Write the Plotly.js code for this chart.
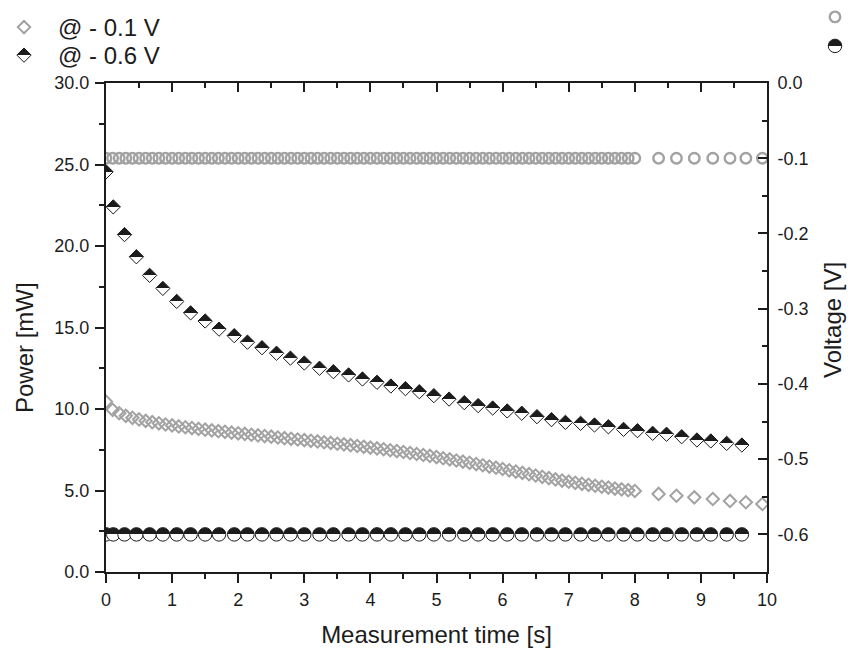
<!DOCTYPE html>
<html><head><meta charset="utf-8">
<script src="https://cdn.plot.ly/plotly-3.0.1.min.js"></script>
<style>html,body{margin:0;padding:0;background:#fff;} #chart{width:859px;height:652px;}</style>
</head><body><div id="chart"></div>
<script>
// Measurement at -0.1 V
const timeLow = [0.0,0.1,0.2,0.3,0.4,0.5,0.6,0.7,0.8,0.9,1.0,1.1,1.2,1.3,1.4,1.5,1.6,1.7,1.8,1.9,2.0,2.1,2.2,2.3,2.4,2.5,2.6,2.7,2.8,2.9,3.0,3.1,3.2,3.3,3.4,3.5,3.6,3.7,3.8,3.9,4.0,4.1,4.2,4.3,4.4,4.5,4.6,4.7,4.8,4.9,5.0,5.1,5.2,5.3,5.4,5.5,5.6,5.7,5.8,5.9,6.0,6.1,6.2,6.3,6.4,6.5,6.6,6.7,6.8,6.9,7.0,7.1,7.2,7.3,7.4,7.5,7.6,7.7,7.8,7.9,8.0,8.36,8.63,8.90,9.18,9.44,9.68,9.93];
const powerLow = [10.45,9.95,9.74,9.58,9.46,9.36,9.27,9.19,9.12,9.05,8.99,8.93,8.88,8.83,8.78,8.73,8.69,8.64,8.60,8.55,8.51,8.47,8.42,8.38,8.34,8.30,8.25,8.21,8.17,8.13,8.09,8.05,8.01,7.96,7.92,7.87,7.83,7.78,7.73,7.68,7.63,7.58,7.53,7.47,7.42,7.36,7.30,7.24,7.18,7.12,7.05,6.98,6.91,6.84,6.77,6.70,6.62,6.55,6.47,6.40,6.32,6.24,6.16,6.08,6.00,5.92,5.84,5.76,5.68,5.61,5.54,5.47,5.41,5.35,5.29,5.23,5.18,5.12,5.07,5.02,4.97,4.79,4.68,4.58,4.48,4.36,4.28,4.17];
const voltLow = [-0.1,-0.1,-0.1,-0.1,-0.1,-0.1,-0.1,-0.1,-0.1,-0.1,-0.1,-0.1,-0.1,-0.1,-0.1,-0.1,-0.1,-0.1,-0.1,-0.1,-0.1,-0.1,-0.1,-0.1,-0.1,-0.1,-0.1,-0.1,-0.1,-0.1,-0.1,-0.1,-0.1,-0.1,-0.1,-0.1,-0.1,-0.1,-0.1,-0.1,-0.1,-0.1,-0.1,-0.1,-0.1,-0.1,-0.1,-0.1,-0.1,-0.1,-0.1,-0.1,-0.1,-0.1,-0.1,-0.1,-0.1,-0.1,-0.1,-0.1,-0.1,-0.1,-0.1,-0.1,-0.1,-0.1,-0.1,-0.1,-0.1,-0.1,-0.1,-0.1,-0.1,-0.1,-0.1,-0.1,-0.1,-0.1,-0.1,-0.1,-0.1,-0.1,-0.1,-0.1,-0.1,-0.1,-0.1,-0.1];

// Measurement at -0.6 V
const timeHigh = [0.00,0.11,0.28,0.46,0.66,0.86,1.07,1.28,1.50,1.71,1.94,2.14,2.36,2.58,2.79,3.00,3.23,3.44,3.67,3.88,4.10,4.31,4.53,4.74,4.96,5.19,5.42,5.63,5.85,6.07,6.29,6.52,6.74,6.95,7.18,7.39,7.60,7.83,8.04,8.27,8.48,8.71,8.94,9.15,9.39,9.62];
const powerHigh = [24.55,22.4,20.7,19.34,18.2,17.4,16.6,15.9,15.4,14.9,14.5,14.1,13.76,13.42,13.12,12.82,12.5,12.29,12.09,11.84,11.64,11.41,11.25,11.06,10.82,10.61,10.39,10.21,10.06,9.88,9.74,9.53,9.35,9.18,9.12,9.02,8.91,8.75,8.67,8.51,8.45,8.30,8.10,8.04,7.89,7.79];
const voltHigh = [-0.6,-0.6,-0.6,-0.6,-0.6,-0.6,-0.6,-0.6,-0.6,-0.6,-0.6,-0.6,-0.6,-0.6,-0.6,-0.6,-0.6,-0.6,-0.6,-0.6,-0.6,-0.6,-0.6,-0.6,-0.6,-0.6,-0.6,-0.6,-0.6,-0.6,-0.6,-0.6,-0.6,-0.6,-0.6,-0.6,-0.6,-0.6,-0.6,-0.6,-0.6,-0.6,-0.6,-0.6,-0.6,-0.6];

const seriesNames = ['@ - 0.1 V', '@ - 0.6 V'];
const leftTickVals = [0, 5, 10, 15, 20, 25, 30];
const leftTickText = ['0.0', '5.0', '10.0', '15.0', '20.0', '25.0', '30.0'];
const rightTickVals = [0, -0.1, -0.2, -0.3, -0.4, -0.5, -0.6];
const rightTickText = ['0.0', '-0.1', '-0.2', '-0.3', '-0.4', '-0.5', '-0.6'];

const FONT = 'Liberation Sans, Arial, Helvetica, sans-serif';
const INK = '#1c1c1c';
const GRAY = '#a2a2a2';

const data = [
  {type:'scatter', mode:'markers', x: timeLow, y: powerLow, name: seriesNames[0], legend:'legend',
   marker:{symbol:'diamond', size:9.5, color:'rgba(255,255,255,0)', line:{color:GRAY, width:2}}},
  {type:'scatter', mode:'markers', x: timeHigh, y: powerHigh, name: seriesNames[1], legend:'legend3', meta:'half',
   marker:{symbol:'diamond', size:11, color:'#ffffff', line:{color:INK, width:1}}},
  {type:'scatter', mode:'markers', x: timeLow, y: voltLow, name: ' ', legend:'legend2', xaxis:'x2', yaxis:'y2',
   marker:{symbol:'circle', size:10.5, color:'rgba(255,255,255,0)', line:{color:GRAY, width:2.4}}},
  {type:'scatter', mode:'markers', x: timeHigh, y: voltHigh, name: ' ', legend:'legend4', xaxis:'x2', yaxis:'y2', meta:'half',
   marker:{symbol:'circle', size:13.5, color:'#ffffff', line:{color:INK, width:1}}}
];

const axBase = {showgrid:false, zeroline:false, showline:true, linewidth:2, linecolor:INK,
  tickwidth:2, tickcolor:INK, ticklen:9, tickfont:{family:FONT, size:18, color:INK}};

const legBase = {xanchor:'left', yanchor:'top', bgcolor:'rgba(0,0,0,0)', borderwidth:0, tracegroupgap:0};

const layout = {
  width:859, height:652,
  margin:{l:106, r:92, t:83, b:80, autoexpand:false},
  paper_bgcolor:'#ffffff', plot_bgcolor:'#ffffff',
  font:{family:FONT, size:18, color:INK},
  showlegend:true,
  xaxis: Object.assign({}, axBase, {range:[0,10], tick0:0, dtick:1, ticks:'outside', ticklabelstandoff:1, mirror:true,
    minor:{tick0:0, dtick:0.5, ticks:'outside', ticklen:5, tickwidth:2, tickcolor:INK},
    title:{text:'Measurement time [s]', font:{family:FONT, size:24, color:INK}, standoff:18}}),
  xaxis2: Object.assign({}, axBase, {range:[0,10], tick0:0, dtick:1, ticks:'inside', overlaying:'x', side:'top', anchor:'y2',
    showticklabels:false,
    minor:{tick0:0, dtick:0.5, ticks:'inside', ticklen:5, tickwidth:2, tickcolor:INK}}),
  yaxis: Object.assign({}, axBase, {range:[0,30], tickmode:'array', tickvals:leftTickVals, ticktext:leftTickText,
    ticks:'outside', ticklabelstandoff:2,
    minor:{tickmode:'linear', tick0:0, dtick:2.5, ticks:'outside', ticklen:5, tickwidth:2, tickcolor:INK}}),
  yaxis2: Object.assign({}, axBase, {range:[-0.65,0], tickmode:'array', tickvals:rightTickVals, ticktext:rightTickText,
    ticks:'inside', overlaying:'y', side:'right', anchor:'x2', ticklabelstandoff:5,
    minor:{tickmode:'linear', tick0:0, dtick:0.05, ticks:'inside', ticklen:5, tickwidth:2, tickcolor:INK}}),
  legend: Object.assign({}, legBase, {x:(-10-106)/661, y:(572-5)/489, itemwidth:58,
    font:{family:FONT, size:24, color:INK}}),
  legend3: Object.assign({}, legBase, {x:(-10-106)/661, y:(572-33)/489, itemwidth:58,
    font:{family:FONT, size:24, color:INK}}),
  legend2: Object.assign({}, legBase, {x:(815-106)/661, y:(572-0)/489, itemwidth:30,
    font:{family:FONT, size:16, color:INK}}),
  legend4: Object.assign({}, legBase, {x:(815-106)/661, y:(572-29)/489, itemwidth:30,
    font:{family:FONT, size:16, color:INK}}),
  annotations:[
    {text:'Power [mW]', xref:'paper', yref:'paper', x:(24-106)/661, y:(572-348)/489, textangle:-90,
     showarrow:false, xanchor:'center', yanchor:'middle', font:{family:FONT, size:24, color:INK}},
    {text:'Voltage [V]', xref:'paper', yref:'paper', x:(832-106)/661, y:(572-320)/489, textangle:-90,
     showarrow:false, xanchor:'center', yanchor:'middle', font:{family:FONT, size:24, color:INK}}
  ]
};

function applyHalfFill(gd){
  const ns = 'http://www.w3.org/2000/svg';
  const svg = gd.querySelector('svg.main-svg');
  let defs = svg.querySelector('defs');
  if(!defs){ defs = document.createElementNS(ns,'defs'); svg.insertBefore(defs, svg.firstChild); }
  const grad = document.createElementNS(ns,'linearGradient');
  grad.setAttribute('id','halfTopBlack');
  grad.setAttribute('x1','0'); grad.setAttribute('y1','0');
  grad.setAttribute('x2','0'); grad.setAttribute('y2','1');
  [['0',INK],['0.5',INK],['0.5','#ffffff'],['1','#ffffff']].forEach(function(s){
    const st = document.createElementNS(ns,'stop');
    st.setAttribute('offset', s[0]); st.setAttribute('stop-color', s[1]);
    grad.appendChild(st);
  });
  defs.appendChild(grad);
  gd.querySelectorAll('.scatterlayer .trace').forEach(function(g){
    const d = g.__data__;
    if(d && d[0] && d[0].trace && d[0].trace.meta === 'half'){
      g.querySelectorAll('path.point').forEach(function(p){ p.style.fill = 'url(#halfTopBlack)'; });
    }
  });
  gd.querySelectorAll('g.traces').forEach(function(g){
    const d = g.__data__;
    if(d && d[0] && d[0].trace && d[0].trace.meta === 'half'){
      g.querySelectorAll('path.scatterpts').forEach(function(p){ p.style.fill = 'url(#halfTopBlack)'; });
    }
  });
}

Plotly.newPlot('chart', data, layout, {displayModeBar:false, staticPlot:true}).then(applyHalfFill);
</script>
</body></html>
